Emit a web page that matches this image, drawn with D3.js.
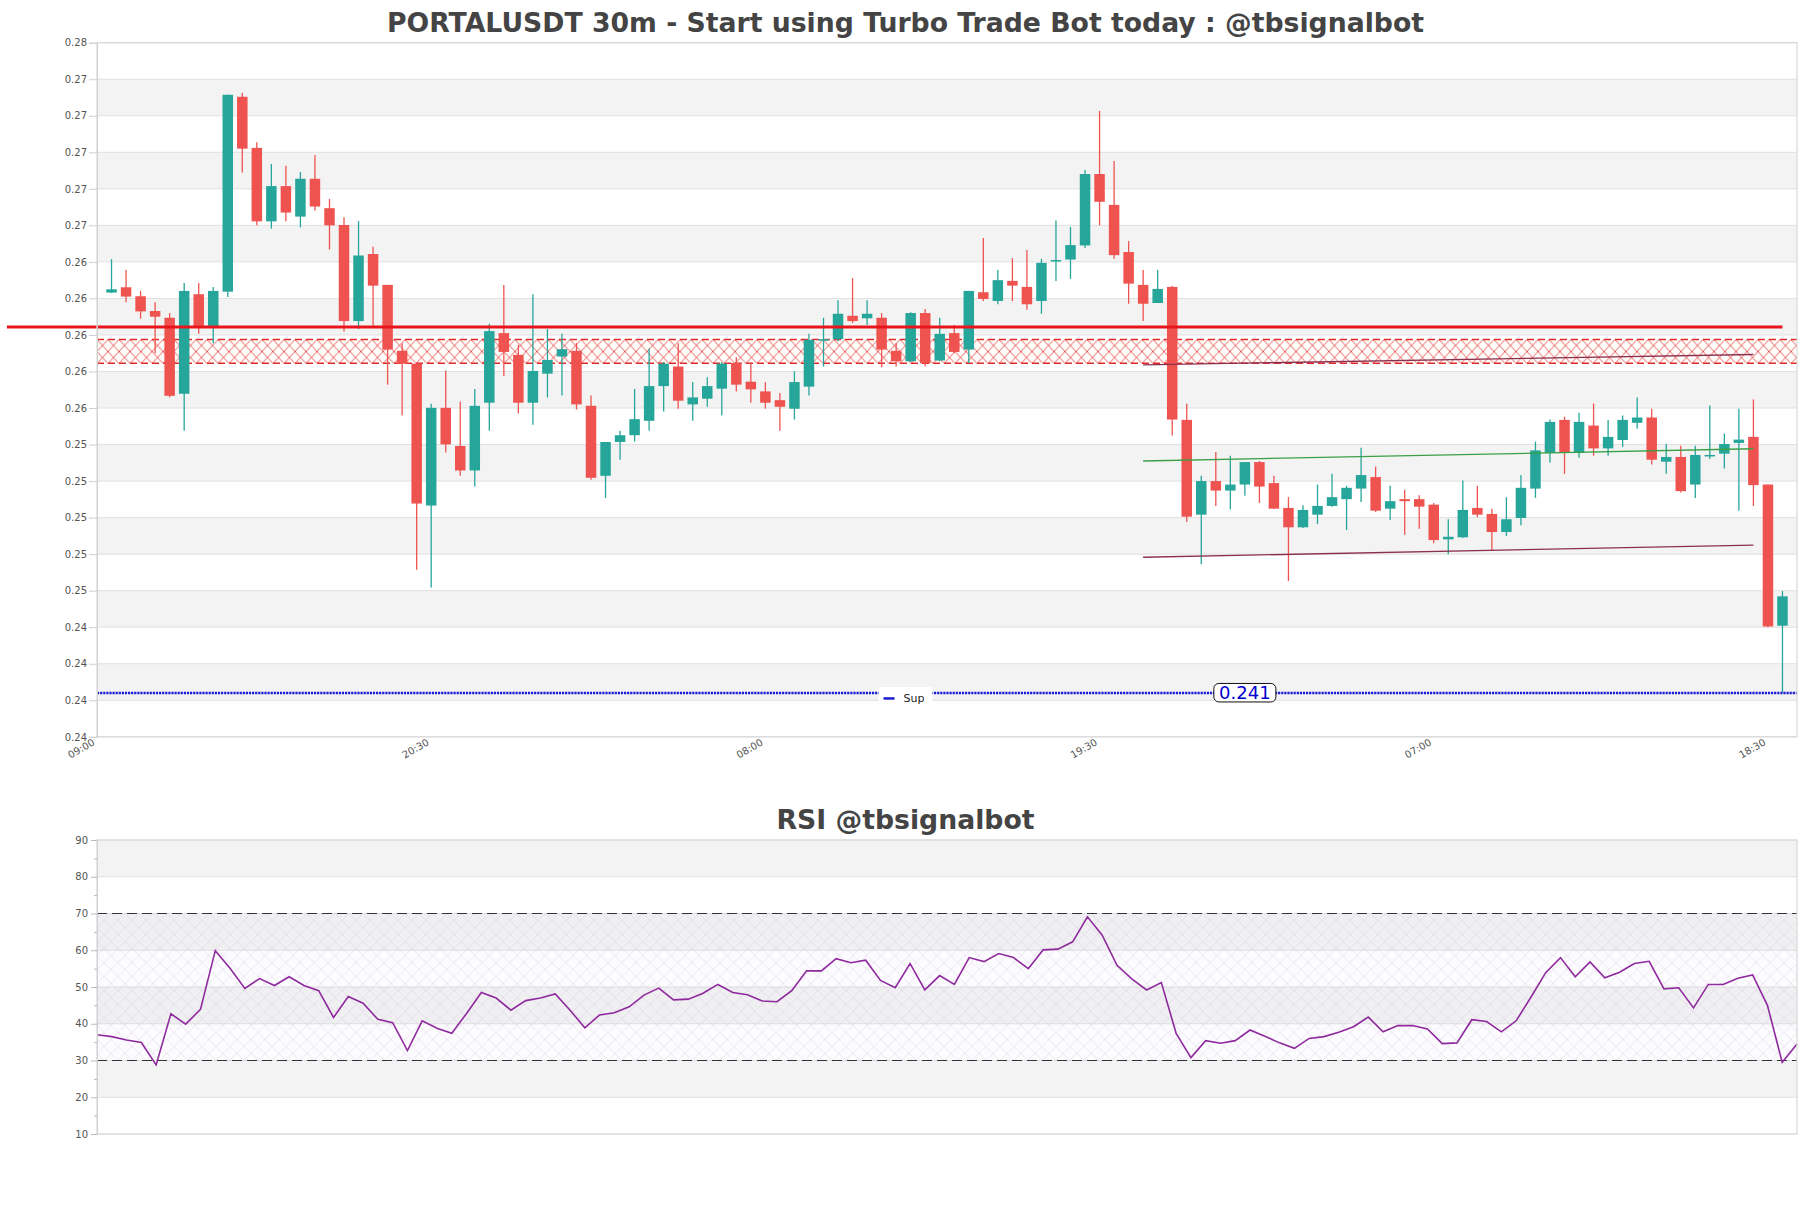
<!DOCTYPE html>
<html><head><meta charset="utf-8">
<script src="https://cdn.jsdelivr.net/npm/d3@7"></script>
<style>
body{margin:0;background:#fff;}
svg{display:block;font-family:"DejaVu Sans",sans-serif;}
</style></head><body>
<svg id="chart" width="1811" height="1208"></svg>
<script>
// ---------- DATA ----------
const chartTitle = "PORTALUSDT 30m - Start using Turbo Trade Bot today : @tbsignalbot";
const rsiTitle = "RSI @tbsignalbot";

const candleOpen = [0.26292,0.26321,0.26272,0.26191,0.26154,0.25738,0.26283,0.26107,0.26297,0.27364,
0.27084,0.26682,0.26875,0.26708,0.26915,0.26754,0.26662,0.26136,0.26503,0.26334,
0.25973,0.25903,0.25126,0.25661,0.25452,0.25318,0.25689,0.26070,0.25951,0.25689,
0.25848,0.25942,0.25973,0.25672,0.25289,0.25474,0.25511,0.25590,0.25780,0.25887,
0.25680,0.25711,0.25766,0.25907,0.25804,0.25751,0.25703,0.25656,0.25777,0.26029,
0.26037,0.26165,0.26151,0.26154,0.25973,0.25916,0.26180,0.25920,0.26070,0.25980,
0.26294,0.26246,0.26356,0.26323,0.26246,0.26462,0.26473,0.26550,0.26941,0.26772,
0.26514,0.26334,0.26235,0.26323,0.25595,0.25076,0.25260,0.25208,0.25241,0.25364,
0.25249,0.25113,0.25007,0.25076,0.25124,0.25161,0.25219,0.25282,0.25109,0.25161,
0.25161,0.25131,0.24941,0.24952,0.25113,0.25080,0.24981,0.25058,0.25219,0.25414,
0.25595,0.25414,0.25564,0.25439,0.25485,0.25579,0.25608,0.25366,0.25392,0.25241,
0.25397,0.25410,0.25469,0.25502,0.25241,0.24468];
const candleHigh = [0.26475,0.26415,0.26301,0.26239,0.26180,0.26345,0.26345,0.26323,0.27375,0.27386,
0.27115,0.26996,0.26987,0.26952,0.27045,0.26805,0.26704,0.26684,0.26543,0.26334,
0.26015,0.25903,0.25683,0.25865,0.25696,0.25764,0.26121,0.26334,0.26006,0.26283,
0.26092,0.26066,0.26015,0.25729,0.25474,0.25535,0.25764,0.25986,0.25910,0.26015,
0.25802,0.25828,0.25910,0.25938,0.25903,0.25802,0.25742,0.25861,0.26066,0.26154,
0.26250,0.26371,0.26250,0.26180,0.26015,0.26184,0.26202,0.26154,0.26114,0.26301,
0.26591,0.26415,0.26481,0.26525,0.26477,0.26686,0.26651,0.26963,0.27287,0.27012,
0.26574,0.26415,0.26415,0.26330,0.25683,0.25289,0.25419,0.25399,0.25364,0.25370,
0.25289,0.25172,0.25128,0.25241,0.25300,0.25234,0.25443,0.25340,0.25234,0.25212,
0.25183,0.25140,0.25051,0.25263,0.25234,0.25109,0.25172,0.25293,0.25476,0.25597,
0.25612,0.25634,0.25685,0.25595,0.25619,0.25718,0.25656,0.25465,0.25454,0.25454,
0.25674,0.25520,0.25656,0.25707,0.25241,0.24658];
const candleLow = [0.26290,0.26239,0.26149,0.25960,0.25718,0.25535,0.26066,0.26015,0.26268,0.26950,
0.26660,0.26642,0.26682,0.26649,0.26741,0.26528,0.26079,0.26092,0.26110,0.25788,
0.25619,0.24774,0.24677,0.25417,0.25289,0.25230,0.25535,0.25835,0.25630,0.25568,
0.25718,0.25729,0.25652,0.25267,0.25168,0.25377,0.25476,0.25535,0.25641,0.25656,
0.25590,0.25667,0.25619,0.25751,0.25689,0.25656,0.25535,0.25597,0.25729,0.25887,
0.26026,0.26125,0.26114,0.25883,0.25887,0.25912,0.25887,0.25916,0.25960,0.25905,
0.26246,0.26228,0.26246,0.26198,0.26176,0.26356,0.26367,0.26536,0.26660,0.26477,
0.26231,0.26136,0.26235,0.25509,0.25036,0.24805,0.25124,0.25106,0.25179,0.25140,
0.25109,0.24713,0.25003,0.25025,0.25120,0.24992,0.25146,0.25091,0.25047,0.24966,
0.24999,0.24919,0.24860,0.24948,0.25062,0.24882,0.24959,0.25018,0.25168,0.25362,
0.25300,0.25388,0.25399,0.25399,0.25447,0.25546,0.25351,0.25300,0.25197,0.25168,
0.25381,0.25329,0.25098,0.25124,0.24460,0.24101];
const candleClose = [0.26310,0.26270,0.26189,0.26160,0.25727,0.26301,0.26107,0.26301,0.27375,0.27080,
0.26682,0.26875,0.26730,0.26915,0.26763,0.26660,0.26136,0.26495,0.26330,0.25980,
0.25903,0.25137,0.25661,0.25461,0.25318,0.25672,0.26081,0.25967,0.25689,0.25863,
0.25923,0.25982,0.25680,0.25278,0.25474,0.25511,0.25599,0.25780,0.25903,0.25700,
0.25718,0.25780,0.25903,0.25788,0.25762,0.25689,0.25667,0.25802,0.26033,0.26037,
0.26176,0.26136,0.26176,0.25980,0.25916,0.26180,0.25905,0.26066,0.25967,0.26301,
0.26257,0.26360,0.26330,0.26228,0.26455,0.26470,0.26552,0.26941,0.26789,0.26497,
0.26341,0.26231,0.26312,0.25597,0.25065,0.25260,0.25208,0.25241,0.25364,0.25230,
0.25109,0.25007,0.25102,0.25124,0.25172,0.25223,0.25293,0.25098,0.25150,0.25150,
0.25120,0.24937,0.24955,0.25102,0.25076,0.24981,0.25051,0.25223,0.25428,0.25584,
0.25414,0.25584,0.25439,0.25502,0.25595,0.25608,0.25377,0.25392,0.25205,0.25403,
0.25403,0.25463,0.25487,0.25238,0.24464,0.24629];

const rsiValues = [37.0,36.5,35.6,34.9,28.8,42.7,39.9,43.9,59.9,55.1,
49.6,52.3,50.4,52.8,50.4,49.0,41.7,47.4,45.6,41.2,
40.3,32.7,40.8,38.8,37.4,42.8,48.5,47.0,43.7,46.3,
47.0,48.1,43.7,38.9,42.4,43.0,44.6,47.8,49.7,46.5,
46.7,48.3,50.7,48.5,47.9,46.2,46.0,49.0,54.4,54.4,
57.7,56.6,57.3,51.8,49.8,56.4,49.2,53.1,50.7,58.0,
56.9,59.1,58.0,55.0,60.1,60.3,62.3,69.1,64.1,55.9,
52.2,49.2,51.2,37.4,30.8,35.4,34.7,35.4,38.3,36.6,
34.8,33.3,36.0,36.5,37.7,39.2,41.8,37.8,39.5,39.5,
38.6,34.6,34.8,41.1,40.6,37.8,40.8,47.2,53.9,58.0,
52.8,56.8,52.5,54.0,56.4,57.0,49.5,49.8,44.3,50.7,
50.7,52.4,53.3,45.0,29.5,34.5];

const priceTickValues = [0.2386,0.2406,0.2426,0.2446,0.2466,0.2486,0.2506,0.2526,0.2546,0.2566,
0.2586,0.2606,0.2626,0.2646,0.2666,0.2686,0.2706,0.2726,0.2746,0.2766];
const xTickLabels = ["09:00","20:30","08:00","19:30","07:00","18:30"];
const xTickIndex = [-1,22,45,68,91,114];
const rsiTickValues = [10,20,30,40,50,60,70,80,90];
const rsiMinorTicks = [15,25,35,45,55,65,75,85];
const rsiLevels = [30,70];

const resistancePrice = 0.26103;
const resistanceSpan = [-7.2,115];
const zoneTop = 0.26035, zoneBottom = 0.25905;
const supportPrice = 0.241;
const supportLabel = "0.241";
const supportLabelIndex = 78;
const legendLabel = "Sup";
const trendStart = 71, trendEnd = 113;
const trendGreen = [0.25370,0.25437];
const trendLower = [0.24843,0.24909];
const trendUpper = [0.25896,0.25953];

// ---------- LAYOUT ----------
const M = {left:97,right:1797,top:42.7,bottom:736.8};
const R = {left:97,right:1797,top:840,bottom:1134};
const UP = "#26a69a", DOWN = "#ef5350";
const svg = d3.select("#chart");

const n = candleOpen.length;
const x = d3.scaleLinear().domain([-1, n]).range([M.left, M.right]);
const y = d3.scaleLinear().domain([priceTickValues[0], priceTickValues[priceTickValues.length-1]]).range([M.bottom, M.top]);
const xr = d3.scaleLinear().domain([0, n-1]).range([R.left, R.right]);
const yr = d3.scaleLinear().domain([10, 90]).range([R.bottom, R.top]);

const defs = svg.append("defs");
const zp = defs.append("pattern").attr("id","zoneHatch").attr("patternUnits","userSpaceOnUse")
  .attr("width",11).attr("height",12).attr("patternTransform",`translate(${M.left},${y(zoneTop)})`);
zp.append("path").attr("d","M0,0L11,12M11,0L0,12").attr("stroke","#e23b3b").attr("stroke-width",0.8).attr("fill","none");
const rp = defs.append("pattern").attr("id","rsiHatch").attr("patternUnits","userSpaceOnUse")
  .attr("width",14).attr("height",14).attr("patternTransform",`translate(${R.left},${yr(70)})`);
rp.append("path").attr("d","M0,0L14,14M14,0L0,14").attr("stroke","#cdb9d9").attr("stroke-width",0.5).attr("fill","none").attr("opacity",0.6);

// ---------- MAIN PANEL ----------
const main = svg.append("g");
const bands = d3.pairs(priceTickValues).map((p,k)=>({lo:p[0],hi:p[1],k}));
main.selectAll("rect.band").data(bands.filter(b=>b.k%2===1)).join("rect")
  .attr("x",M.left).attr("width",M.right-M.left)
  .attr("y",d=>y(d.hi)).attr("height",d=>y(d.lo)-y(d.hi)).attr("fill","#f3f3f3");
main.selectAll("line.grid").data(priceTickValues).join("line")
  .attr("x1",M.left).attr("x2",M.right).attr("y1",d=>y(d)).attr("y2",d=>y(d))
  .attr("stroke","#e0e0e0").attr("stroke-width",1);

// zone
main.append("rect").attr("x",M.left).attr("width",M.right-M.left)
  .attr("y",y(zoneTop)).attr("height",y(zoneBottom)-y(zoneTop)).attr("fill","#fffdfa");
main.append("rect").attr("x",M.left).attr("width",M.right-M.left)
  .attr("y",y(zoneTop)).attr("height",y(zoneBottom)-y(zoneTop)).attr("fill","url(#zoneHatch)");
[zoneTop,zoneBottom].forEach(v=>{
  main.append("line").attr("x1",M.left).attr("x2",M.right).attr("y1",y(v)).attr("y2",y(v))
    .attr("stroke","#e02a2a").attr("stroke-width",1.3).attr("stroke-dasharray","7,4");
});

// candles
const idx = d3.range(n);
const bodyW = 10.5;
const cg = main.append("g");
cg.selectAll("line.wick").data(idx).join("line")
  .attr("x1",i=>x(i)).attr("x2",i=>x(i))
  .attr("y1",i=>y(candleHigh[i])).attr("y2",i=>y(candleLow[i]))
  .attr("stroke",i=>candleClose[i]>=candleOpen[i]?UP:DOWN).attr("stroke-width",1.3);
cg.selectAll("rect.body").data(idx).join("rect")
  .attr("x",i=>x(i)-bodyW/2).attr("width",bodyW)
  .attr("y",i=>y(Math.max(candleOpen[i],candleClose[i])))
  .attr("height",i=>Math.max(1.5,Math.abs(y(candleOpen[i])-y(candleClose[i]))))
  .attr("fill",i=>candleClose[i]>=candleOpen[i]?UP:DOWN);

// trend lines
[[trendGreen,"#3a9f45"],[trendLower,"#8c3050"],[trendUpper,"#8c3050"]].forEach(([v,c])=>{
  main.append("line").attr("x1",x(trendStart)).attr("x2",x(trendEnd))
    .attr("y1",y(v[0])).attr("y2",y(v[1])).attr("stroke",c).attr("stroke-width",1.3);
});

// resistance
main.append("line").attr("x1",x(resistanceSpan[0])).attr("x2",x(resistanceSpan[1]))
  .attr("y1",y(resistancePrice)).attr("y2",y(resistancePrice))
  .attr("stroke","#e8161c").attr("stroke-width",3);

// support
main.append("line").attr("x1",M.left).attr("x2",M.right).attr("y1",y(supportPrice)).attr("y2",y(supportPrice))
  .attr("stroke","#1c1cd2").attr("stroke-width",2.6).attr("stroke-dasharray","2.2,0.9");

// support label
const lbl = main.append("g").attr("transform",`translate(${x(supportLabelIndex)},${y(supportPrice)})`);
lbl.append("rect").attr("x",-31).attr("y",-9.5).attr("width",62).attr("height",18.5).attr("rx",5)
  .attr("fill","#fff").attr("stroke","#111").attr("stroke-width",1);
lbl.append("text").attr("text-anchor","middle").attr("y",6.5).attr("font-size",18)
  .attr("fill","#0000d0").text(supportLabel);

// legend
const lg = main.append("g").attr("transform",`translate(${1811/2},${y(supportPrice)})`);
lg.append("rect").attr("x",-27).attr("y",-6).attr("width",54).attr("height",17).attr("rx",2).attr("fill","#fff");
lg.append("line").attr("x1",-22).attr("x2",-11).attr("y1",5.5).attr("y2",5.5).attr("stroke","#1c1cd2").attr("stroke-width",2.5);
lg.append("text").attr("x",-2).attr("y",9).attr("font-size",11).attr("fill","#222").text(legendLabel);

// frame
main.append("rect").attr("x",M.left).attr("y",M.top).attr("width",M.right-M.left).attr("height",M.bottom-M.top)
  .attr("fill","none").attr("stroke","#d9d9d9").attr("stroke-width",1.2);

// y axis
const yAxis = main.append("g").attr("transform",`translate(${M.left},0)`)
  .call(d3.axisLeft(y).tickValues(priceTickValues).tickFormat(d3.format(".2f")).tickSize(8).tickPadding(2));
yAxis.select(".domain").attr("stroke","#d0d0d0");
yAxis.selectAll(".tick line").attr("stroke","#d0d0d0");
yAxis.selectAll(".tick text").attr("font-size",10).attr("fill","#555").attr("font-family","DejaVu Sans");

// x axis
const xAxis = main.append("g").attr("transform",`translate(0,${M.bottom})`)
  .call(d3.axisBottom(x).tickValues(xTickIndex).tickFormat((d,i)=>xTickLabels[i]).tickSize(0));
xAxis.select(".domain").remove();
xAxis.selectAll(".tick text").attr("font-size",10).attr("fill","#555").attr("font-family","DejaVu Sans")
  .attr("text-anchor","end").attr("y",0).attr("dy",0)
  .attr("transform","translate(-2,7.5) rotate(-30)");

// title
svg.append("text").attr("x",1811/2).attr("y",32).attr("text-anchor","middle")
  .attr("font-size",26.7).attr("font-weight","bold").attr("fill","#444").text(chartTitle);

// ---------- RSI PANEL ----------
const rsiG = svg.append("g");
const rb = d3.pairs(rsiTickValues).map((p,k)=>({lo:p[0],hi:p[1],k}));
rsiG.selectAll("rect.band").data(rb.filter(b=>b.k%2===1)).join("rect")
  .attr("x",R.left).attr("width",R.right-R.left)
  .attr("y",d=>yr(d.hi)).attr("height",d=>yr(d.lo)-yr(d.hi)).attr("fill","#f3f3f3");
rsiG.selectAll("line.grid").data(rsiTickValues).join("line")
  .attr("x1",R.left).attr("x2",R.right).attr("y1",d=>yr(d)).attr("y2",d=>yr(d))
  .attr("stroke","#e0e0e0");
rsiG.append("rect").attr("x",R.left).attr("width",R.right-R.left)
  .attr("y",yr(rsiLevels[1])).attr("height",yr(rsiLevels[0])-yr(rsiLevels[1]))
  .attr("fill","#b99acb").attr("opacity",0.045);
rsiG.append("rect").attr("x",R.left).attr("width",R.right-R.left)
  .attr("y",yr(rsiLevels[1])).attr("height",yr(rsiLevels[0])-yr(rsiLevels[1]))
  .attr("fill","url(#rsiHatch)");
rsiLevels.forEach(v=>{
  rsiG.append("line").attr("x1",R.left).attr("x2",R.right).attr("y1",yr(v)).attr("y2",yr(v))
    .attr("stroke","#333").attr("stroke-width",1.2).attr("stroke-dasharray","10,5");
});
rsiG.append("path").datum(rsiValues)
  .attr("d",d3.line().x((d,i)=>xr(i)).y(d=>yr(d)))
  .attr("fill","none").attr("stroke","#8e2a9e").attr("stroke-width",1.6);
rsiG.append("rect").attr("x",R.left).attr("y",R.top).attr("width",R.right-R.left).attr("height",R.bottom-R.top)
  .attr("fill","none").attr("stroke","#d9d9d9").attr("stroke-width",1.2);
const ryAxis = rsiG.append("g").attr("transform",`translate(${R.left},0)`)
  .call(d3.axisLeft(yr).tickValues(rsiTickValues).tickFormat(d3.format("d")).tickSize(6).tickPadding(3));
ryAxis.select(".domain").attr("stroke","#d0d0d0");
ryAxis.selectAll(".tick line").attr("stroke","#bbb");
ryAxis.selectAll(".tick text").attr("font-size",10).attr("fill","#555").attr("font-family","DejaVu Sans");
const rmAxis = rsiG.append("g").attr("transform",`translate(${R.left},0)`)
  .call(d3.axisLeft(yr).tickValues(rsiMinorTicks).tickFormat("").tickSize(3));
rmAxis.select(".domain").remove();
rmAxis.selectAll(".tick line").attr("stroke","#bbb");

svg.append("text").attr("x",1811/2).attr("y",829).attr("text-anchor","middle")
  .attr("font-size",26.7).attr("font-weight","bold").attr("fill","#444").text(rsiTitle);
</script>
</body></html>
